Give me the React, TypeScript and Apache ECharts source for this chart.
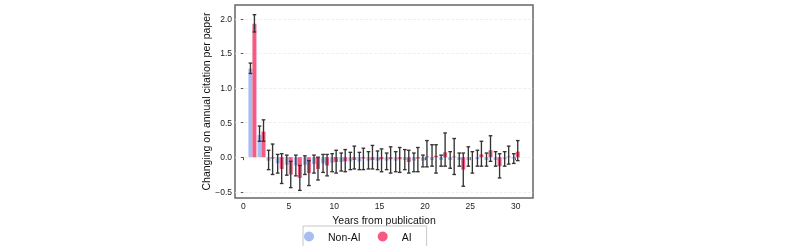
import React, { useEffect, useRef } from "react";
import * as echarts from "echarts";

const years = [1,2,3,4,5,6,7,8,9,10,11,12,13,14,15,16,17,18,19,20,21,22,23,24,25,26,27,28,29,30];

const nonAIValue = [1.28,0.32,-0.05,-0.09,-0.11,-0.12,-0.11,-0.10,-0.09,-0.08,-0.07,-0.06,-0.06,-0.05,-0.05,-0.05,-0.05,-0.04,-0.05,-0.05,-0.04,-0.04,-0.04,-0.04,-0.04,-0.03,-0.04,-0.04,-0.03,-0.02];
const nonAILow = [1.21,0.23,-0.18,-0.23,-0.26,-0.27,-0.25,-0.23,-0.22,-0.21,-0.20,-0.18,-0.18,-0.17,-0.18,-0.18,-0.21,-0.18,-0.21,-0.14,-0.13,-0.13,-0.16,-0.13,-0.13,-0.13,-0.13,-0.13,-0.13,-0.09];
const nonAIHigh = [1.36,0.45,0.10,0.04,0.03,0.03,0.02,0.03,0.04,0.05,0.06,0.07,0.07,0.08,0.09,0.06,0.08,0.11,0.06,0.03,0.18,0.03,0.08,0.06,0.15,0.10,0.06,0.08,0.08,0.05];

const aiValue = [1.93,0.37,-0.02,-0.17,-0.25,-0.30,-0.23,-0.17,-0.12,-0.07,-0.06,-0.04,-0.02,-0.04,-0.03,-0.03,-0.03,-0.07,-0.02,0.01,0.02,0.07,0.01,-0.18,0.0,0.04,0.10,-0.13,0.01,0.08];
const aiLow = [1.81,0.23,-0.25,-0.38,-0.44,-0.48,-0.41,-0.33,-0.27,-0.23,-0.21,-0.17,-0.18,-0.17,-0.21,-0.23,-0.22,-0.23,-0.21,-0.14,-0.23,-0.13,-0.25,-0.42,-0.23,-0.13,-0.06,-0.30,-0.10,-0.05];
const aiHigh = [2.06,0.54,0.19,0.05,-0.06,-0.12,-0.05,0.0,0.04,0.10,0.11,0.16,0.13,0.17,0.12,0.15,0.14,0.10,0.14,0.24,0.18,0.35,0.27,0.06,0.08,0.23,0.31,0.05,0.16,0.24];

const yTicks = [-0.5, 0, 0.5, 1, 1.5, 2];
const xTicks = [0, 5, 10, 15, 20, 25, 30];

const BLUE = "#a8bcf4";
const PINK = "#f65a83";
const FONT = "'Liberation Sans', Arial, sans-serif";
const OFFSET = 0.22;
const BAR_W = 0.44;
const CAP = 0.2;

function rows(vals: number[], lows: number[], highs: number[]) {
  return years.map((y, i) => [y, vals[i], lows[i], highs[i]]);
}

function barRenderer(off: number) {
  return (params: any, api: any) => {
    const x = api.value(0);
    const v = api.value(1);
    const p0 = api.coord([x + off - BAR_W / 2, 0]);
    const p1 = api.coord([x + off + BAR_W / 2, v]);
    return {
      type: "rect",
      shape: {
        x: p0[0],
        y: Math.min(p0[1], p1[1]),
        width: p1[0] - p0[0],
        height: Math.abs(p1[1] - p0[1]),
      },
      style: { fill: api.visual("color") },
    };
  };
}

function errRenderer(off: number) {
  return (params: any, api: any) => {
    const x = api.value(0) + off;
    const lo = api.value(2);
    const hi = api.value(3);
    const a = api.coord([x, lo]);
    const b = api.coord([x, hi]);
    const l1 = api.coord([x - CAP, lo]);
    const r1 = api.coord([x + CAP, lo]);
    const l2 = api.coord([x - CAP, hi]);
    const r2 = api.coord([x + CAP, hi]);
    const st = { stroke: "#333", lineWidth: 1.35 };
    return {
      type: "group",
      children: [
        { type: "line", shape: { x1: a[0], y1: a[1], x2: b[0], y2: b[1] }, style: st },
        { type: "line", shape: { x1: l1[0], y1: l1[1], x2: r1[0], y2: r1[1] }, style: st },
        { type: "line", shape: { x1: l2[0], y1: l2[1], x2: r2[0], y2: r2[1] }, style: st },
      ],
    };
  };
}

export default function App() {
  const ref = useRef<HTMLDivElement>(null);
  useEffect(() => {
    if (!ref.current) return;
    const chart = echarts.init(ref.current, null, { renderer: "svg" });
    const nonAI = rows(nonAIValue, nonAILow, nonAIHigh);
    const ai = rows(aiValue, aiLow, aiHigh);
    chart.setOption({
      animation: false,
      textStyle: { fontFamily: FONT },
      grid: {
        left: 235,
        right: 260,
        top: 5,
        bottom: 48,
        show: true,
        borderColor: "#666",
        borderWidth: 1.5,
        backgroundColor: "transparent",
      },
      legend: {
        data: [
          { name: "Non-AI", icon: "circle" },
          { name: "AI", icon: "circle" },
        ],
        left: 303,
        top: 226,
        itemWidth: 28,
        itemHeight: 10,
        itemGap: 17,
        padding: [5, 15, 10, 1],
        borderColor: "#c8c8c8",
        borderWidth: 1,
        textStyle: { fontFamily: FONT, fontSize: 10.5, color: "#111" },
      },
      xAxis: {
        type: "value",
        min: -0.92,
        max: 31.9,
        name: "Years from publication",
        nameLocation: "middle",
        nameGap: 9,
        nameTextStyle: { fontFamily: FONT, fontSize: 10.5, color: "#111" },
        axisLine: { show: false },
        axisTick: { show: true, length: 3, customValues: xTicks, lineStyle: { color: "#555" } },
        axisLabel: { customValues: xTicks, fontSize: 8.5, color: "#222", margin: 3, fontFamily: FONT },
        splitLine: { show: false },
      },
      yAxis: {
        type: "value",
        min: -0.59,
        max: 2.2,
        name: "Changing on annual citation per paper",
        nameLocation: "middle",
        nameGap: 18,
        nameTextStyle: { fontFamily: FONT, fontSize: 10.5, color: "#111" },
        axisLine: { show: false },
        axisTick: { show: true, length: 2.5, customValues: yTicks, lineStyle: { color: "#555" } },
        axisLabel: {
          customValues: yTicks,
          fontSize: 8.5,
          color: "#222",
          margin: 3,
          fontFamily: FONT,
          formatter: (v: number) => (v < 0 ? "\u2212" + Math.abs(v).toFixed(1) : v.toFixed(1)),
        },
        splitLine: { show: true, lineStyle: { color: "#ececec", type: "dashed", width: 0.8 } },
      },
      series: [
        {
          name: "Non-AI",
          type: "custom",
          itemStyle: { color: BLUE },
          encode: { x: 0, y: 1 },
          renderItem: barRenderer(-OFFSET),
          data: nonAI,
        },
        {
          name: "AI",
          type: "custom",
          itemStyle: { color: PINK },
          encode: { x: 0, y: 1 },
          renderItem: barRenderer(OFFSET),
          data: ai,
        },
        {
          name: "Non-AI error",
          type: "custom",
          encode: { x: 0, y: [2, 3] },
          renderItem: errRenderer(-OFFSET),
          data: nonAI,
        },
        {
          name: "AI error",
          type: "custom",
          encode: { x: 0, y: [2, 3] },
          renderItem: errRenderer(OFFSET),
          data: ai,
        },
      ],
    });
    return () => chart.dispose();
  }, []);
  return (
    <div
      ref={ref}
      style={{ position: "fixed", left: 0, top: 0, width: 793, height: 246 }}
    />
  );
}
